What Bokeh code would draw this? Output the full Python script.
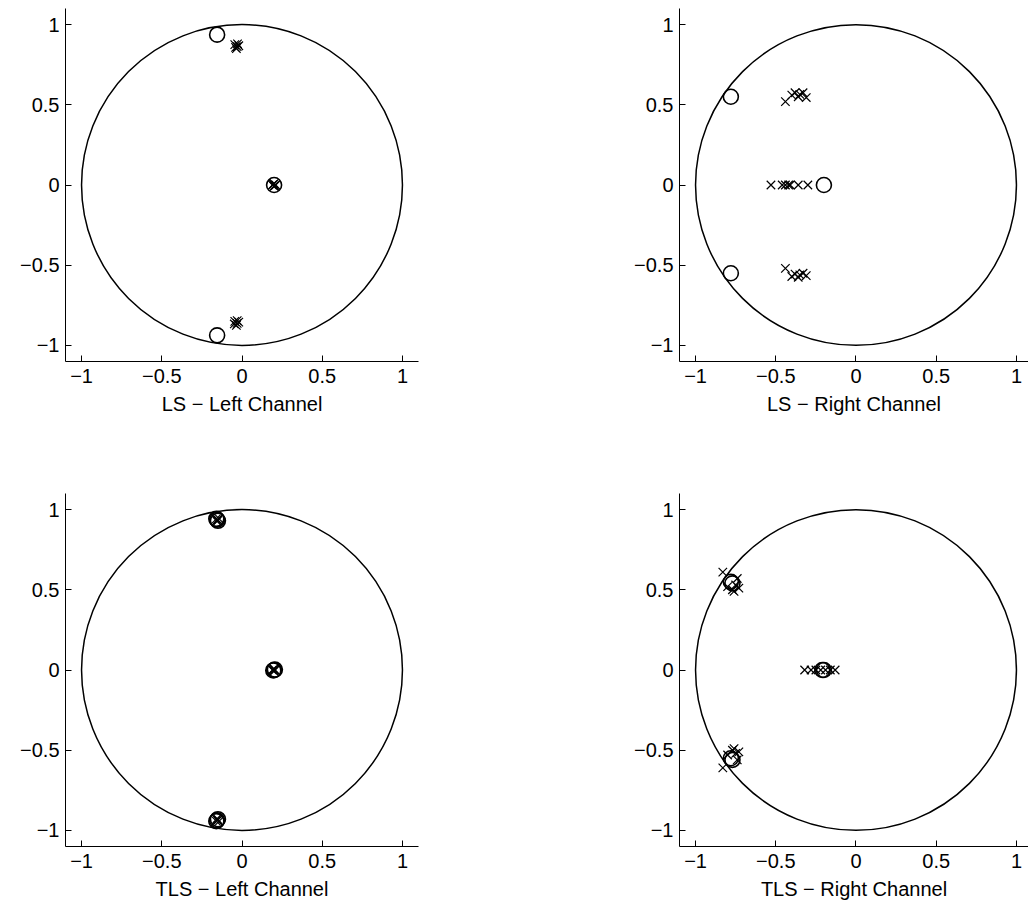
from bokeh.plotting import figure
from bokeh.layouts import row, column
from bokeh.models import Range1d, FixedTicker
from bokeh.embed import file_html
from bokeh.resources import INLINE

# ---- data ----
titles = ["LS \u2212 Left Channel", "LS \u2212 Right Channel",
          "TLS \u2212 Left Channel", "TLS \u2212 Right Channel"]

ls_left_zeros_x = [-0.155, -0.155, 0.20]
ls_left_zeros_y = [0.937, -0.937, 0.0]
ls_left_poles_x = [-0.045, -0.030, -0.035, -0.020, -0.040, -0.028,
                   -0.045, -0.030, -0.035, -0.020, -0.048, -0.030,
                   0.190, 0.200, 0.210, 0.200, 0.195, 0.205]
ls_left_poles_y = [0.875, 0.862, 0.850, 0.868, 0.858, 0.880,
                   -0.850, -0.862, -0.875, -0.855, -0.866, -0.845,
                   0.000, 0.008, 0.000, -0.008, 0.004, -0.004]

ls_right_zeros_x = [-0.78, -0.78, -0.20]
ls_right_zeros_y = [0.55, -0.55, 0.0]
ls_right_poles_x = [-0.44, -0.40, -0.38, -0.36, -0.33, -0.31, -0.35,
                    -0.53, -0.46, -0.44, -0.42, -0.41, -0.36, -0.30,
                    -0.44, -0.40, -0.38, -0.36, -0.33, -0.31, -0.35]
ls_right_poles_y = [0.52, 0.56, 0.575, 0.55, 0.575, 0.545, 0.565,
                    0.0, 0.0, 0.0, 0.0, 0.0, 0.0, 0.0,
                    -0.52, -0.57, -0.555, -0.575, -0.55, -0.565, -0.56]

tls_left_zeros_x = [-0.155, -0.150, -0.160, -0.155, -0.150, -0.160, 0.200, 0.205, 0.195]
tls_left_zeros_y = [0.937, 0.930, 0.942, -0.937, -0.930, -0.942, 0.0, 0.003, -0.003]
tls_left_poles_x = [-0.150, -0.160, -0.155, -0.145, -0.158,
                    -0.150, -0.160, -0.155, -0.145, -0.158,
                    0.195, 0.205, 0.200, 0.200, 0.190]
tls_left_poles_y = [0.935, 0.942, 0.926, 0.945, 0.932,
                    -0.935, -0.942, -0.926, -0.945, -0.932,
                    0.0, 0.0, 0.006, -0.006, 0.0]

tls_right_zeros_x = [-0.78, -0.77, -0.78, -0.77, -0.20, -0.21]
tls_right_zeros_y = [0.55, 0.54, -0.55, -0.56, 0.0, 0.0]
tls_right_poles_x = [-0.83, -0.80, -0.77, -0.75, -0.74, -0.76, -0.73,
                     -0.32, -0.28, -0.25, -0.22, -0.19, -0.16, -0.13,
                     -0.83, -0.80, -0.77, -0.75, -0.74, -0.76, -0.73]
tls_right_poles_y = [0.61, 0.52, 0.50, 0.53, 0.57, 0.49, 0.51,
                     0.0, 0.0, 0.0, 0.0, 0.0, 0.0, 0.0,
                     -0.61, -0.53, -0.50, -0.52, -0.56, -0.49, -0.51]

tick_values = [-1, -0.5, 0, 0.5, 1]
tick_labels = {-1: "\u22121", -0.5: "\u22120.5", 0: "0", 0.5: "0.5", 1: "1"}

FONT = "Liberation Sans"
FS = "20px"


def make(title, zx, zy, px, py, left_col, top_row):
    frame_w = 353 if left_col else 349
    x_end = 1.1 if left_col else -1.1 + 349 / 160.45
    p = figure(output_backend="svg", toolbar_location=None,
               frame_width=frame_w, frame_height=353,
               x_range=Range1d(-1.1, x_end), y_range=Range1d(-1.1, 1.1),
               min_border_left=65, min_border_top=8,
               min_border_right=196 if left_col else 0,
               min_border_bottom=124 if top_row else 65,
               x_axis_label=title)
    p.outline_line_color = None
    p.grid.visible = False
    p.background_fill_color = "white"
    p.border_fill_color = "white"
    for ax in (p.xaxis[0], p.yaxis[0]):
        ax.ticker = FixedTicker(ticks=tick_values)
        ax.major_label_overrides = tick_labels
        ax.minor_tick_line_color = None
        ax.major_tick_in = 6
        ax.major_tick_out = 0
        ax.axis_line_color = "black"
        ax.axis_line_width = 1
        ax.major_tick_line_color = "black"
        ax.major_label_text_font = FONT
        ax.major_label_text_font_size = FS
        ax.major_label_text_color = "black"
        ax.axis_label_text_font = FONT
        ax.axis_label_text_font_size = FS
        ax.axis_label_text_font_style = "normal"
        ax.axis_label_text_color = "black"
    p.xaxis[0].major_label_standoff = 7
    p.xaxis[0].axis_label_standoff = 7
    p.yaxis[0].major_label_standoff = 6

    # unit circle
    p.circle(x=[0], y=[0], radius=1, fill_color=None,
             line_color="black", line_width=1.5)
    # zeros and poles
    p.scatter(zx, zy, marker="circle", size=15, fill_color=None,
              line_color="black", line_width=1.6)
    p.scatter(px, py, marker="x", size=12, line_color="black", line_width=1.2)
    return p


p1 = make(titles[0], ls_left_zeros_x, ls_left_zeros_y,
          ls_left_poles_x, ls_left_poles_y, True, True)
p2 = make(titles[1], ls_right_zeros_x, ls_right_zeros_y,
          ls_right_poles_x, ls_right_poles_y, False, True)
p3 = make(titles[2], tls_left_zeros_x, tls_left_zeros_y,
          tls_left_poles_x, tls_left_poles_y, True, False)
p4 = make(titles[3], tls_right_zeros_x, tls_right_zeros_y,
          tls_right_poles_x, tls_right_poles_y, False, False)

layout = row(column(p1, p3), column(p2, p4))
open("out.html", "w").write(file_html(layout, INLINE))
